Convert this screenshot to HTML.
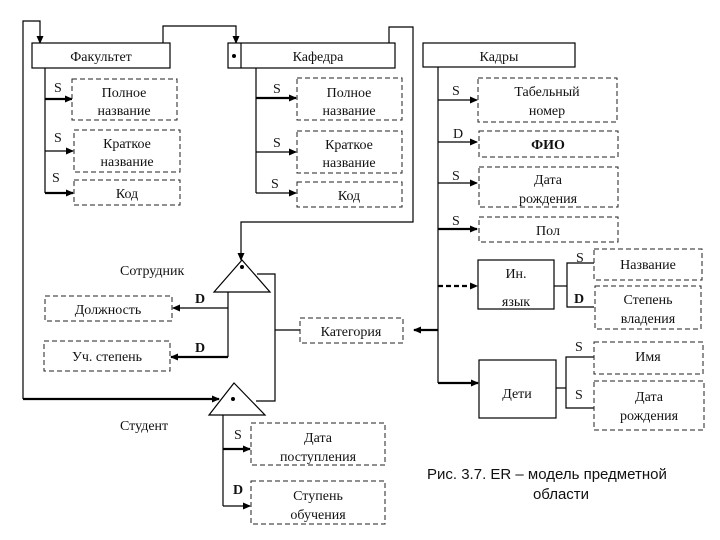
<!DOCTYPE html>
<html><head><meta charset="utf-8"><style>
html,body{margin:0;padding:0;background:#fff;}
svg{display:block;}
text{font-family:"Liberation Serif","DejaVu Serif",serif;font-size:14px;fill:#111;}
.c{text-anchor:middle;}
.l{fill:none;stroke:#000;stroke-width:1.2;}
.b{fill:none;stroke:#000;stroke-width:2.2;}
.d{fill:#fff;stroke:#222;stroke-width:1;stroke-dasharray:5,3;}
.s{fill:#fff;stroke:#000;stroke-width:1.2;}
</style></head><body>
<svg width="720" height="540" viewBox="0 0 720 540" xmlns="http://www.w3.org/2000/svg">
<defs><marker id="a" markerWidth="8" markerHeight="8" refX="7" refY="4" orient="auto" markerUnits="userSpaceOnUse"><path d="M0,0.5 L8,4 L0,7.5 Z" fill="#000"/></marker></defs>

<!-- top/outer connectors -->
<polyline class="l" points="23,399 23,21 40,21 40,43" marker-end="url(#a)"/>
<polyline class="b" points="23,399 219,399" marker-end="url(#a)"/>
<polyline class="l" points="163,43 163,26 236,26 236,43" marker-end="url(#a)"/>
<polyline class="l" points="389,43 389,27 413,27 413,222 241,222 241,260" marker-end="url(#a)"/>

<!-- Факультет -->
<rect class="s" x="32" y="43" width="138" height="25"/>
<text class="c" x="101" y="61">Факультет</text>
<polyline class="l" points="45,68 45,193"/>
<line class="b" x1="45" y1="99" x2="72" y2="99" marker-end="url(#a)"/>
<line class="l" x1="45" y1="151" x2="73" y2="151" marker-end="url(#a)"/>
<line class="b" x1="45" y1="193" x2="73" y2="193" marker-end="url(#a)"/>
<text x="54" y="92">S</text><text x="54" y="142">S</text><text x="52" y="182">S</text>
<rect class="d" x="72" y="79" width="105" height="41"/>
<text class="c" x="124" y="97">Полное</text><text class="c" x="124" y="115">название</text>
<rect class="d" x="74" y="130" width="106" height="42"/>
<text class="c" x="127" y="148">Краткое</text><text class="c" x="127" y="166">название</text>
<rect class="d" x="74" y="180" width="106" height="25"/>
<text class="c" x="127" y="198">Код</text>

<!-- Кафедра -->
<rect class="s" x="228" y="43" width="167" height="25"/>
<line class="l" x1="241" y1="43" x2="241" y2="68"/>
<circle cx="234" cy="56" r="2" fill="#000"/>
<text class="c" x="318" y="61">Кафедра</text>
<polyline class="l" points="256,68 256,193"/>
<line class="b" x1="256" y1="98" x2="296" y2="98" marker-end="url(#a)"/>
<line class="l" x1="256" y1="152" x2="296" y2="152" marker-end="url(#a)"/>
<line class="l" x1="256" y1="193" x2="296" y2="193" marker-end="url(#a)"/>
<text x="273" y="93">S</text><text x="273" y="147">S</text><text x="271" y="188">S</text>
<rect class="d" x="297" y="78" width="105" height="42"/>
<text class="c" x="349" y="97">Полное</text><text class="c" x="349" y="115">название</text>
<rect class="d" x="297" y="131" width="105" height="42"/>
<text class="c" x="349" y="149">Краткое</text><text class="c" x="349" y="167">название</text>
<rect class="d" x="297" y="182" width="105" height="25"/>
<text class="c" x="349" y="200">Код</text>

<!-- Кадры -->
<rect class="s" x="423" y="43" width="152" height="24"/>
<text class="c" x="499" y="61">Кадры</text>
<polyline class="l" points="438,67 438,383"/>
<line class="l" x1="438" y1="100" x2="477" y2="100" marker-end="url(#a)"/>
<line class="l" x1="438" y1="142" x2="477" y2="142" marker-end="url(#a)"/>
<line class="l" x1="438" y1="183" x2="477" y2="183" marker-end="url(#a)"/>
<line class="b" x1="438" y1="229" x2="477" y2="229" marker-end="url(#a)"/>
<line class="b" x1="438" y1="286" x2="477" y2="286" stroke-dasharray="5,3" marker-end="url(#a)"/>
<line class="b" x1="438" y1="383" x2="478" y2="383" marker-end="url(#a)"/>
<line class="b" x1="438" y1="330" x2="414" y2="330" marker-end="url(#a)"/>
<text x="452" y="95">S</text><text x="453" y="138">D</text><text x="452" y="180">S</text><text x="452" y="225">S</text>
<rect class="d" x="478" y="78" width="139" height="44"/>
<text class="c" x="547" y="96">Табельный</text><text class="c" x="547" y="115">номер</text>
<rect class="d" x="479" y="131" width="139" height="26"/>
<text class="c" x="548" y="149" font-weight="bold">ФИО</text>
<rect class="d" x="479" y="167" width="139" height="40"/>
<text class="c" x="548" y="184">Дата</text><text class="c" x="548" y="203">рождения</text>
<rect class="d" x="479" y="217" width="139" height="25"/>
<text class="c" x="548" y="235">Пол</text>

<!-- Ин. язык -->
<rect class="s" x="478" y="260" width="76" height="49"/>
<text class="c" x="516" y="278">Ин.</text><text class="c" x="516" y="306">язык</text>
<polyline class="l" points="554,286 567,286"/>
<polyline class="l" points="594,263 567,263 567,307 594,307"/>
<text x="576" y="262">S</text><text x="574" y="303" font-weight="bold">D</text>
<rect class="d" x="594" y="249" width="108" height="31"/>
<text class="c" x="648" y="269">Название</text>
<rect class="d" x="595" y="286" width="106" height="43"/>
<text class="c" x="648" y="304">Степень</text><text class="c" x="648" y="323">владения</text>

<!-- Дети -->
<rect class="s" x="479" y="360" width="77" height="58"/>
<text class="c" x="517" y="398">Дети</text>
<polyline class="l" points="556,388 566,388"/>
<polyline class="l" points="594,357 566,357 566,408 594,408"/>
<text x="575" y="351">S</text><text x="575" y="399">S</text>
<rect class="d" x="594" y="342" width="109" height="32"/>
<text class="c" x="648" y="361">Имя</text>
<rect class="d" x="594" y="381" width="110" height="49"/>
<text class="c" x="649" y="401">Дата</text><text class="c" x="649" y="420">рождения</text>

<!-- Сотрудник -->
<text x="120" y="275">Сотрудник</text>
<polygon class="s" points="242,260 214,292 270,292"/>
<circle cx="242" cy="267" r="2" fill="#000"/>
<polyline class="l" points="257,274 275,274 275,401 256,401"/>
<line class="l" x1="275" y1="330" x2="300" y2="330"/>
<rect class="d" x="300" y="318" width="103" height="25"/>
<text class="c" x="351" y="336">Категория</text>
<polyline class="l" points="228,292 228,357"/>
<line class="l" x1="228" y1="308" x2="173" y2="308" marker-end="url(#a)"/>
<line class="b" x1="228" y1="357" x2="171" y2="357" marker-end="url(#a)"/>
<text x="195" y="303" font-weight="bold">D</text><text x="195" y="352" font-weight="bold">D</text>
<rect class="d" x="45" y="296" width="127" height="25"/>
<text class="c" x="108" y="314">Должность</text>
<rect class="d" x="44" y="341" width="126" height="30"/>
<text class="c" x="107" y="361">Уч. степень</text>

<!-- Студент -->
<polygon class="s" points="234,383 209,415 265,415"/>
<circle cx="233" cy="399" r="2" fill="#000"/>
<text x="120" y="430">Студент</text>
<polyline class="l" points="223,415 223,506"/>
<line class="b" x1="223" y1="449" x2="250" y2="449" marker-end="url(#a)"/>
<line class="l" x1="223" y1="506" x2="250" y2="506" marker-end="url(#a)"/>
<text x="234" y="439">S</text><text x="233" y="494" font-weight="bold">D</text>
<rect class="d" x="251" y="423" width="134" height="42"/>
<text class="c" x="318" y="442">Дата</text><text class="c" x="318" y="461">поступления</text>
<rect class="d" x="251" y="481" width="134" height="43"/>
<text class="c" x="318" y="500">Ступень</text><text class="c" x="318" y="519">обучения</text>

<!-- caption -->
<text x="427" y="479" style="font-family:'Liberation Sans',sans-serif;font-size:15px;">Рис. 3.7. ER – модель предметной</text>
<text class="c" x="561" y="499" style="font-family:'Liberation Sans',sans-serif;font-size:15px;">области</text>
</svg>
</body></html>
